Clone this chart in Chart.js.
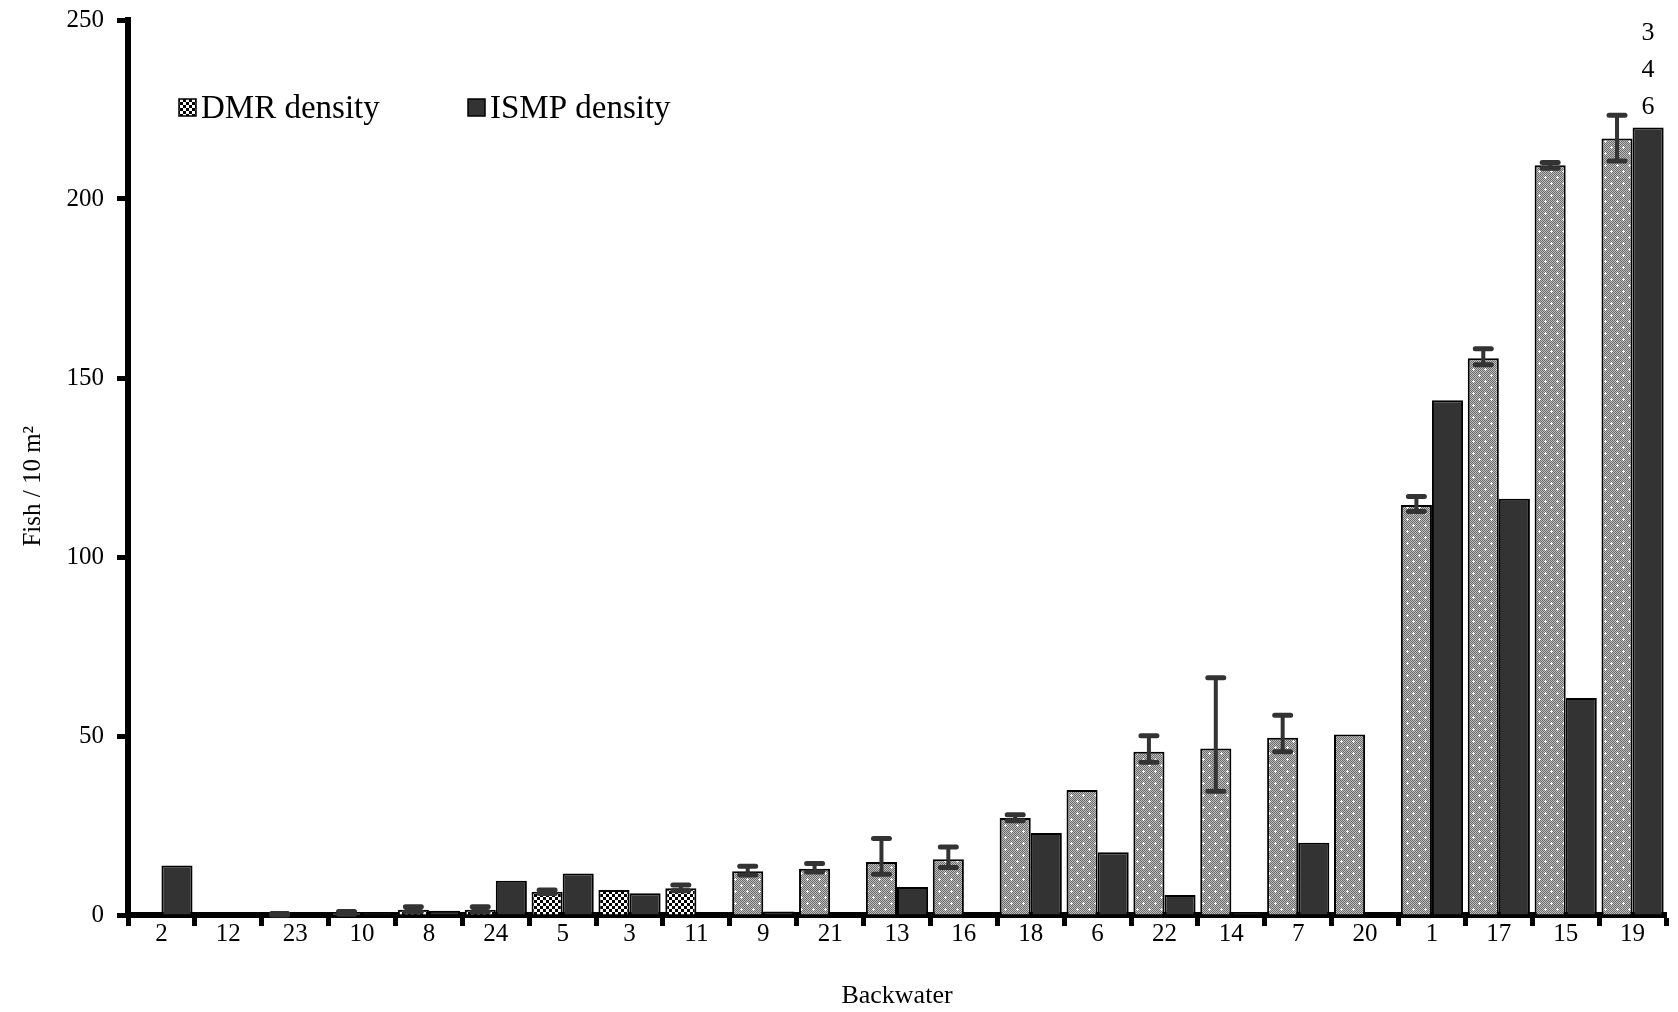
<!DOCTYPE html>
<html>
<head>
<meta charset="utf-8">
<script src="https://cdn.jsdelivr.net/npm/chart.js@4.4.0/dist/chart.umd.min.js"></script>
<style>
  body { margin: 0; background: #fff; }
  #wrap { width: 1678px; height: 1012px; }
</style>
</head>
<body>
<div id="wrap"><canvas id="chart" width="1678" height="1012"></canvas></div>
<script>
// backwaters, in plotted order
const categories = ['2', '12', '23', '10', '8', '24', '5', '3', '11', '9', '21', '13', '16', '18', '6', '22', '14', '7', '20', '1', '17', '15', '19'];

// DMR density (fish / 10 m2) and its error bar ends
const dmrDensity = [0, 0, 0.2, 0.5, 1.5, 1.5, 6.5, 7.0, 7.5, 12.2, 12.9, 14.8, 15.6, 27.1, 34.9, 45.6, 46.5, 49.5, 50.4, 114.5, 155.5, 209.4, 216.9];
const dmrUpper = [null, null, 0.4, 1.0, 2.3, 2.3, 7.0, null, 8.4, 13.6, 14.4, 21.4, 19.0, 28.0, null, 50.1, 66.3, 55.8, null, 116.9, 158.2, 210.2, 223.4];
const dmrLower = [null, null, 0.0, 0.2, 0.9, 0.9, 6.0, null, 6.8, 11.2, 12.0, 11.4, 13.3, 26.3, null, 42.7, 34.6, 45.6, null, 112.7, 153.7, 208.6, 210.6];

// ISMP density (fish / 10 m2)
const ismpDensity = [13.8, 0, 0, 0.6, 1.2, 9.6, 11.6, 6.1, 0, 1.0, 0, 7.8, 0, 22.9, 17.5, 5.6, 0.7, 20.2, 0, 143.8, 116.3, 60.6, 220.0];

// the off-scale ISMP value for the last backwater, written vertically
const offScaleLabel = ['3', '4', '6'];

const yTicks = [0, 50, 100, 150, 200, 250];

const serif = '"Liberation Serif", "Times New Roman", serif';

function checkerPattern() {
    const c = document.createElement('canvas');
    c.width = 6; c.height = 6;
    const g = c.getContext('2d');
    g.fillStyle = '#fff';
    g.fillRect(0, 0, 6, 6);
    g.fillStyle = '#000';
    g.fillRect(0, 0, 3, 3);
    g.fillRect(3, 3, 3, 3);
    return g.createPattern(c, 'repeat');
}

function dottedPattern() {
    const c = document.createElement('canvas');
    c.width = 12; c.height = 12;
    const g = c.getContext('2d');
    for (let x = 0; x < 12; x++) {
        for (let y = 0; y < 12; y++) {
            g.fillStyle = (x + y) % 2 ? '#bdbdbd' : '#6c6c6c';
            g.fillRect(x, y, 1, 1);
        }
    }
    g.fillStyle = '#fff';
    [[3, 3], [9, 9]].forEach(([px, py]) => {
        g.fillRect(px - 1, py, 3, 1);
        g.fillRect(px, py - 1, 1, 3);
    });
    return g.createPattern(c, 'repeat');
}

const checker = checkerPattern();
const dotted = dottedPattern();
const dmrFill = categories.map((c, i) => i < 9 ? checker : dotted);

// error bars on the DMR bars + legend + off-scale note
const extras = {
    id: 'extras',
    afterDatasetsDraw(chart) {
        const ctx = chart.ctx;
        const y = chart.scales.y;
        const meta = chart.getDatasetMeta(0);
        ctx.save();
        ctx.strokeStyle = '#333';
        ctx.lineCap = 'round';
        meta.data.forEach((bar, i) => {
            if (dmrUpper[i] == null) return;
            const top = y.getPixelForValue(dmrUpper[i]);
            const bot = y.getPixelForValue(dmrLower[i]);
            ctx.lineWidth = 4;
            ctx.beginPath();
            ctx.moveTo(bar.x, top);
            ctx.lineTo(bar.x, bot);
            ctx.stroke();
            ctx.lineWidth = 5;
            ctx.beginPath();
            ctx.moveTo(bar.x - 8, top);
            ctx.lineTo(bar.x + 8, top);
            ctx.moveTo(bar.x - 8, bot);
            ctx.lineTo(bar.x + 8, bot);
            ctx.stroke();
        });
        ctx.restore();
    },
    afterDraw(chart) {
        const ctx = chart.ctx;
        ctx.save();
        // legend
        const items = [
            { fill: checker, text: 'DMR density', x: 179 },
            { fill: '#333', text: 'ISMP density', x: 468 }
        ];
        ctx.font = '33px ' + serif;
        ctx.textBaseline = 'alphabetic';
        items.forEach(it => {
            ctx.fillStyle = it.fill;
            ctx.fillRect(it.x, 99, 17, 17);
            ctx.lineWidth = 1.5;
            ctx.strokeStyle = '#000';
            ctx.strokeRect(it.x, 99, 17, 17);
            ctx.fillStyle = '#000';
            ctx.fillText(it.text, it.x + 22, 118);
        });
        // off-scale value above last ISMP bar
        const bar = chart.getDatasetMeta(1).data[categories.length - 1];
        ctx.font = '26px ' + serif;
        ctx.textAlign = 'center';
        ctx.textBaseline = 'middle';
        offScaleLabel.forEach((d, k) => ctx.fillText(d, bar.x, 33 + k * 37));
        ctx.restore();
    }
};

new Chart(document.getElementById('chart'), {
    type: 'bar',
    data: {
        labels: categories,
        datasets: [
            {
                label: 'DMR density',
                data: dmrDensity,
                backgroundColor: dmrFill,
                borderColor: '#000',
                borderWidth: 2
            },
            {
                label: 'ISMP density',
                data: ismpDensity,
                backgroundColor: '#333',
                borderColor: '#000',
                borderWidth: 2
            }
        ]
    },
    options: {
        responsive: false,
        animation: false,
        events: [],
        categoryPercentage: 0.93,
        barPercentage: 1.0,
        layout: { padding: { top: 20, right: 12, bottom: 0, left: 0 } },
        plugins: {
            legend: { display: false },
            tooltip: { enabled: false }
        },
        scales: {
            x: {
                grid: {
                    drawOnChartArea: false,
                    offset: true,
                    tickLength: 11,
                    tickWidth: 5,
                    tickColor: '#000'
                },
                border: { color: '#000', width: 6 },
                ticks: {
                    color: '#000',
                    padding: -7,
                    font: { family: serif, size: 25 }
                },
                title: {
                    display: true,
                    text: 'Backwater',
                    color: '#000',
                    padding: { top: 0, bottom: 0 },
                    font: { family: serif, size: 26 }
                },
                afterFit(scale) { scale.height = 97; }
            },
            y: {
                min: 0,
                max: 250,
                afterBuildTicks(scale) { scale.ticks = yTicks.map(v => ({ value: v })); },
                grid: {
                    drawOnChartArea: false,
                    tickLength: 11,
                    tickWidth: 5,
                    tickColor: '#000'
                },
                border: { color: '#000', width: 6 },
                ticks: {
                    color: '#000',
                    padding: 13,
                    font: { family: serif, size: 25 }
                },
                title: {
                    display: true,
                    text: 'Fish / 10 m²      ',
                    color: '#000',
                    padding: { top: 18, bottom: 0 },
                    font: { family: serif, size: 25 }
                },
                afterFit(scale) {
                    scale.width = 128;
                    scale.paddingTop = 0;
                    scale.paddingBottom = 0;
                }
            }
        }
    },
    plugins: [extras]
});
</script>
</body>
</html>
